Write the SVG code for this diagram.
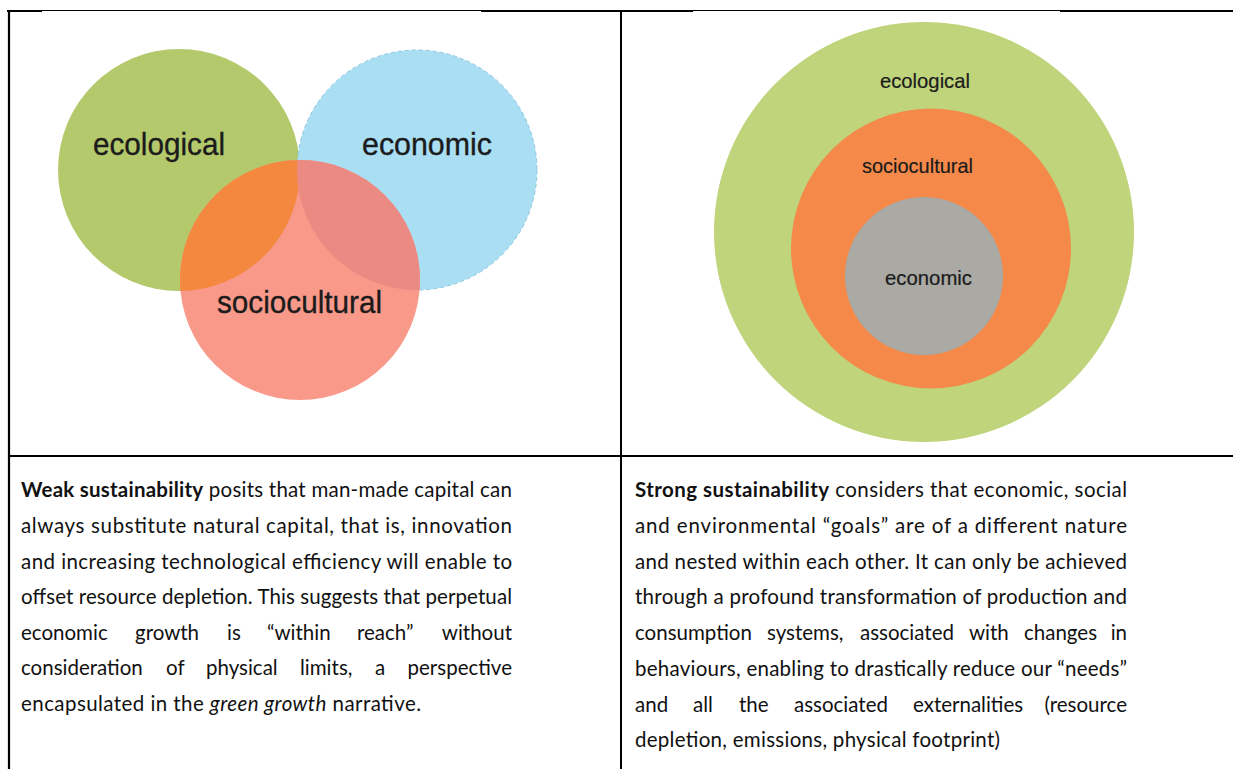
<svg xmlns="http://www.w3.org/2000/svg" width="1233" height="769" viewBox="0 0 1233 769">
  <defs>
    <style>
      .rule { stroke: #000; fill: none; }
      .lbl { font-family: "Liberation Sans", Arial, sans-serif; fill: #1b1b1b; stroke: #1b1b1b; stroke-width: 0.35px; }
      .big { font-size: 32px; }
      .small { font-size: 21px; stroke-width: 0.2px; }
      .body { font-family: Lato, "Noto Sans", sans-serif; font-size: 20.5px; fill: #111; }
      .end { text-anchor: end; }
      .b { font-weight: bold; }
      .i { font-style: italic; }
    </style>
    <clipPath id="socioClip">
      <circle cx="300" cy="280" r="120"/>
    </clipPath>
  </defs>

  <rect width="1233" height="769" fill="#fff"/>

  <!-- table rules -->
  <g id="table">
    <line class="rule" x1="8" y1="10.5" x2="1233" y2="10.5" stroke-width="1.2"/>
    <line class="rule" x1="7" y1="11" x2="42" y2="11" stroke-width="2"/>
    <line class="rule" x1="481" y1="11" x2="693" y2="11" stroke-width="2"/>
    <line class="rule" x1="1060" y1="11" x2="1233" y2="11" stroke-width="2"/>
    <line class="rule" x1="9" y1="10" x2="9" y2="769" stroke-width="2.2"/>
    <line class="rule" x1="621" y1="10" x2="621" y2="769" stroke-width="2"/>
    <line class="rule" x1="8" y1="456" x2="1233" y2="456" stroke-width="2.2"/>
  </g>

  <!-- weak sustainability: overlapping spheres -->
  <g id="venn">
    <g id="venn-ecological">
      <circle cx="179" cy="170" r="121" fill="#b3c96b"/>
    </g>
    <g id="venn-economic">
      <circle cx="417" cy="170" r="120" fill="#a9def3" stroke="#8ec6df" stroke-width="1" stroke-dasharray="4 3"/>
    </g>
    <g id="venn-sociocultural">
      <circle cx="300" cy="280" r="120" fill="#f8998a"/>
      <g clip-path="url(#socioClip)">
        <circle cx="179" cy="170" r="121" fill="#f4883f"/>
        <circle cx="417" cy="170" r="120" fill="#eb8983"/>
      </g>
    </g>
    <text class="lbl big" x="93" y="155" textLength="132" lengthAdjust="spacingAndGlyphs">ecological</text>
    <text class="lbl big" x="362" y="155" textLength="130" lengthAdjust="spacingAndGlyphs">economic</text>
    <text class="lbl big" x="217" y="313" textLength="165" lengthAdjust="spacingAndGlyphs">sociocultural</text>
  </g>

  <!-- strong sustainability: nested spheres -->
  <g id="nested">
    <g id="nested-ecological">
      <circle cx="924" cy="232" r="210" fill="#bfd47b"/>
      <text class="lbl small" x="880" y="88" textLength="90" lengthAdjust="spacingAndGlyphs">ecological</text>
    </g>
    <g id="nested-sociocultural">
      <circle cx="931" cy="248.5" r="140" fill="#f5894a"/>
      <text class="lbl small" x="862" y="173" textLength="111" lengthAdjust="spacingAndGlyphs">sociocultural</text>
    </g>
    <g id="nested-economic">
      <circle cx="924" cy="276" r="79" fill="#aaa9a4"/>
      <text class="lbl small" x="885" y="285" textLength="87" lengthAdjust="spacingAndGlyphs">economic</text>
    </g>
  </g>

  <!-- captions (justified: loose lines place words one by one) -->
  <g id="weak-caption" class="body">
    <text x="21" y="497.3" textLength="491" lengthAdjust="spacing"><tspan class="b">Weak sustainability</tspan> posits that man-made capital can</text>
    <text x="21" y="532.9" textLength="491" lengthAdjust="spacing">always substitute natural capital, that is, innovation</text>
    <text x="21" y="568.5" textLength="491" lengthAdjust="spacing">and increasing technological efficiency will enable to</text>
    <text x="21" y="604.1" textLength="491" lengthAdjust="spacing">offset resource depletion. This suggests that perpetual</text>
    <text y="639.7"><tspan x="21">economic</tspan><tspan x="135">growth</tspan><tspan x="227">is</tspan><tspan x="267">“within</tspan><tspan x="357">reach”</tspan></text>
    <text class="end" x="512" y="639.7">without</text>
    <text y="675.3"><tspan x="21">consideration</tspan><tspan x="166">of</tspan><tspan x="206">physical</tspan><tspan x="300">limits,</tspan><tspan x="375">a</tspan></text>
    <text class="end" x="512" y="675.3">perspective</text>
    <text x="21" y="710.9" textLength="400" lengthAdjust="spacing">encapsulated in the <tspan class="i">green growth</tspan> narrative.</text>
  </g>

  <g id="strong-caption" class="body">
    <text x="635" y="497.3" textLength="492" lengthAdjust="spacing"><tspan class="b">Strong sustainability</tspan> considers that economic, social</text>
    <text x="635" y="533" textLength="492" lengthAdjust="spacing">and environmental “goals” are of a different nature</text>
    <text x="635" y="568.7" textLength="492" lengthAdjust="spacing">and nested within each other. It can only be achieved</text>
    <text x="635" y="604.4" textLength="492" lengthAdjust="spacing">through a profound transformation of production and</text>
    <text y="640.1"><tspan x="635">consumption</tspan><tspan x="767">systems,</tspan><tspan x="860">associated</tspan><tspan x="969">with</tspan><tspan x="1024">changes</tspan></text>
    <text class="end" x="1127" y="640.1">in</text>
    <text x="635" y="675.8" textLength="492" lengthAdjust="spacing">behaviours, enabling to drastically reduce our “needs”</text>
    <text y="711.5"><tspan x="635">and</tspan><tspan x="693">all</tspan><tspan x="739">the</tspan><tspan x="794">associated</tspan><tspan x="913">externalities</tspan></text>
    <text class="end" x="1127" y="711.5">(resource</text>
    <text x="635" y="747.2" textLength="365" lengthAdjust="spacing">depletion, emissions, physical footprint)</text>
  </g>
</svg>
